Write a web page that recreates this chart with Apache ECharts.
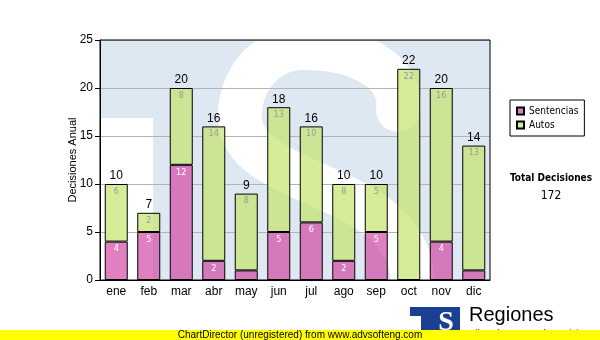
<!DOCTYPE html>
<html>
<head>
<meta charset="utf-8">
<script src="https://cdn.jsdelivr.net/npm/echarts@6/dist/echarts.min.js"></script>
<style>
  html, body { margin: 0; padding: 0; background: #fff; }
  #chart { width: 600px; height: 340px; }
</style>
</head>
<body>
<div id="chart"></div>
<script>
// Decisiones por mes: sentencias y autos apilados
const months = ['ene', 'feb', 'mar', 'abr', 'may', 'jun', 'jul', 'ago', 'sep', 'oct', 'nov', 'dic'];
const sentencias = [4, 5, 12, 2, 1, 5, 6, 2, 5, 0, 4, 1];
const autos = [6, 2, 8, 14, 8, 13, 10, 8, 5, 22, 16, 13];
const yMin = 0, yMax = 25, yStep = 5;

const totals = months.map((_, i) => sentencias[i] + autos[i]);
const grandTotal = totals.reduce((a, b) => a + b, 0);

// plot area box (pixels)
const G = { left: 100, top: 40, width: 390, height: 240 };
const W = 600, H = 340;
const SANS = 'Liberation Sans, Arial, sans-serif';
const TAHOMA = 'DejaVu Sans Condensed, DejaVu Sans, sans-serif';

// faint "TS" emblem painted inside the plot box
function paintEmblem(ctx) {
  ctx.fillStyle = '#ffffff';
  ctx.fillRect(0, 0, W, H);
  ctx.save();
  ctx.beginPath();
  ctx.rect(G.left, G.top, G.width, G.height);
  ctx.clip();
  ctx.fillStyle = '#dee8f2';
  ctx.fillRect(G.left, G.top, G.width, G.height);
  ctx.fillStyle = '#ffffff';
  ctx.fillRect(G.left, G.top + 78, 53, G.height - 78);
  ctx.strokeStyle = '#ffffff';
  ctx.lineWidth = 44;
  ctx.lineCap = 'round';
  ctx.lineJoin = 'round';
  ctx.beginPath();
  ctx.moveTo(398, 110);
  ctx.bezierCurveTo(404, 70, 356, 48, 304, 48);
  ctx.bezierCurveTo(262, 48, 238, 85, 240, 120);
  ctx.bezierCurveTo(242, 160, 300, 175, 350, 200);
  ctx.bezierCurveTo(400, 225, 420, 260, 410, 300);
  ctx.stroke();
  ctx.restore();
}

function makeCanvas(tint) {
  const c = document.createElement('canvas');
  c.width = W; c.height = H;
  const ctx = c.getContext('2d');
  paintEmblem(ctx);
  if (tint) {
    ctx.fillStyle = tint;
    ctx.fillRect(0, 0, W, H);
  }
  return c;
}

const emblemCanvas = makeCanvas(null);
// bar fills: translucent colour laid over the emblem, so the emblem shows through the bars
const pinkFill = { image: makeCanvas('rgba(211,74,165,0.7)'), repeat: 'no-repeat' };
const greenFill = { image: makeCanvas('rgba(196,228,108,0.7)'), repeat: 'no-repeat' };

const chart = echarts.init(document.getElementById('chart'), null, { renderer: 'canvas' });

const backdrop = [
  { type: 'image', z: -5, silent: true, style: { image: emblemCanvas, x: 0, y: 0, width: W, height: H } }
];

// side note with the yearly total
const sideNote = [
  { type: 'text', z: 5, style: { x: 551, y: 178, text: 'Total Decisiones', fill: '#000', font: 'bold 10px ' + TAHOMA, align: 'center', verticalAlign: 'middle' } },
  { type: 'text', z: 5, style: { x: 551, y: 196, text: String(grandTotal), fill: '#000', font: '12px ' + TAHOMA, align: 'center', verticalAlign: 'middle' } }
];

// footer: logo block, caption and banner
const footer = [
  { type: 'rect', z: 5, shape: { x: 410, y: 307, width: 50, height: 26 }, style: { fill: '#1b3f93' } },
  { type: 'rect', z: 5, shape: { x: 410, y: 316, width: 11, height: 20 }, style: { fill: '#ffffff' } },
  { type: 'rect', z: 5, shape: { x: 421, y: 316, width: 9, height: 20 }, style: { fill: '#1b3f93' } },
  { type: 'text', z: 6, style: { x: 446, y: 323, text: 'S', fill: '#ffffff', font: 'bold 28px Liberation Serif, serif', align: 'center', verticalAlign: 'middle' } },
  { type: 'text', z: 5, style: { x: 469, y: 315, text: 'Regiones', fill: '#000', font: '20px ' + SANS, align: 'left', verticalAlign: 'middle' } },
  { type: 'text', z: 5, style: { x: 467, y: 334, text: 'Tribunal Supremo de Justicia', fill: '#000', font: '9px ' + SANS, align: 'left', verticalAlign: 'middle' } },
  { type: 'rect', z: 7, shape: { x: 0, y: 330, width: W, height: 10 }, style: { fill: '#ffff00' } },
  { type: 'text', z: 8, style: { x: 300, y: 335, text: 'ChartDirector (unregistered) from www.advsofteng.com', fill: '#000', font: '10px ' + SANS, align: 'center', verticalAlign: 'middle' } }
];

const option = {
  animation: false,
  backgroundColor: '#ffffff',
  textStyle: { fontFamily: SANS },
  grid: {
    left: G.left, top: G.top, width: G.width, height: G.height,
    show: true, borderColor: '#000', borderWidth: 1, backgroundColor: 'transparent', z: 3
  },
  legend: {
    data: ['Sentencias', 'Autos'],
    orient: 'vertical',
    left: 510, top: 100,
    icon: 'rect',
    itemWidth: 7, itemHeight: 7, itemGap: 4,
    padding: [6, 6, 6, 6],
    borderColor: '#000', borderWidth: 1, borderRadius: 0,
    backgroundColor: '#fff',
    textStyle: { fontFamily: TAHOMA, fontSize: 10, color: '#000' }
  },
  xAxis: {
    type: 'category',
    data: months,
    axisLine: { lineStyle: { color: '#000', width: 1 } },
    axisTick: { alignWithLabel: true, length: 3, lineStyle: { color: '#000' } },
    axisLabel: { color: '#000', fontSize: 12, margin: 6, fontFamily: SANS }
  },
  yAxis: {
    type: 'value',
    min: yMin, max: yMax, interval: yStep,
    name: 'Decisiones Anual',
    nameLocation: 'middle',
    nameGap: 22,
    nameMoveOverlap: false,
    nameTextStyle: { color: '#000', fontSize: 11, fontFamily: SANS },
    axisLine: { show: true, lineStyle: { color: '#000', width: 1 } },
    axisTick: { show: true, length: 5, lineStyle: { color: '#000' } },
    axisLabel: { color: '#000', fontSize: 12, margin: 7, fontFamily: SANS },
    splitLine: { lineStyle: { color: '#b4b4b4', width: 1 } }
  },
  series: [
    {
      name: 'Sentencias', type: 'bar', stack: 'd', barWidth: 23,
      data: sentencias,
      itemStyle: { color: pinkFill, borderColor: '#000', borderWidth: 1 },
      label: {
        show: true, position: 'insideTop', distance: 3,
        color: '#fff', fontSize: 9, fontFamily: TAHOMA,
        formatter: p => (p.value >= 2 ? String(p.value) : '')
      }
    },
    {
      name: 'Autos', type: 'bar', stack: 'd', barWidth: 23,
      data: autos,
      itemStyle: { color: greenFill, borderColor: '#000', borderWidth: 1 },
      label: {
        show: true, position: 'insideTop', distance: 3,
        color: '#999999', fontSize: 9, fontFamily: TAHOMA,
        formatter: p => (p.value >= 2 ? String(p.value) : '')
      }
    },
    {
      name: 'Total', type: 'bar', stack: 'd', barWidth: 23,
      data: months.map(() => 0),
      itemStyle: { color: 'rgba(0,0,0,0)', borderWidth: 0 },
      label: {
        show: true, position: 'top', distance: 2,
        color: '#000', fontSize: 12, fontFamily: SANS,
        formatter: p => String(totals[p.dataIndex])
      }
    }
  ],
  graphic: { elements: backdrop.concat(sideNote, footer) }
};

chart.setOption(option);
</script>
</body>
</html>
